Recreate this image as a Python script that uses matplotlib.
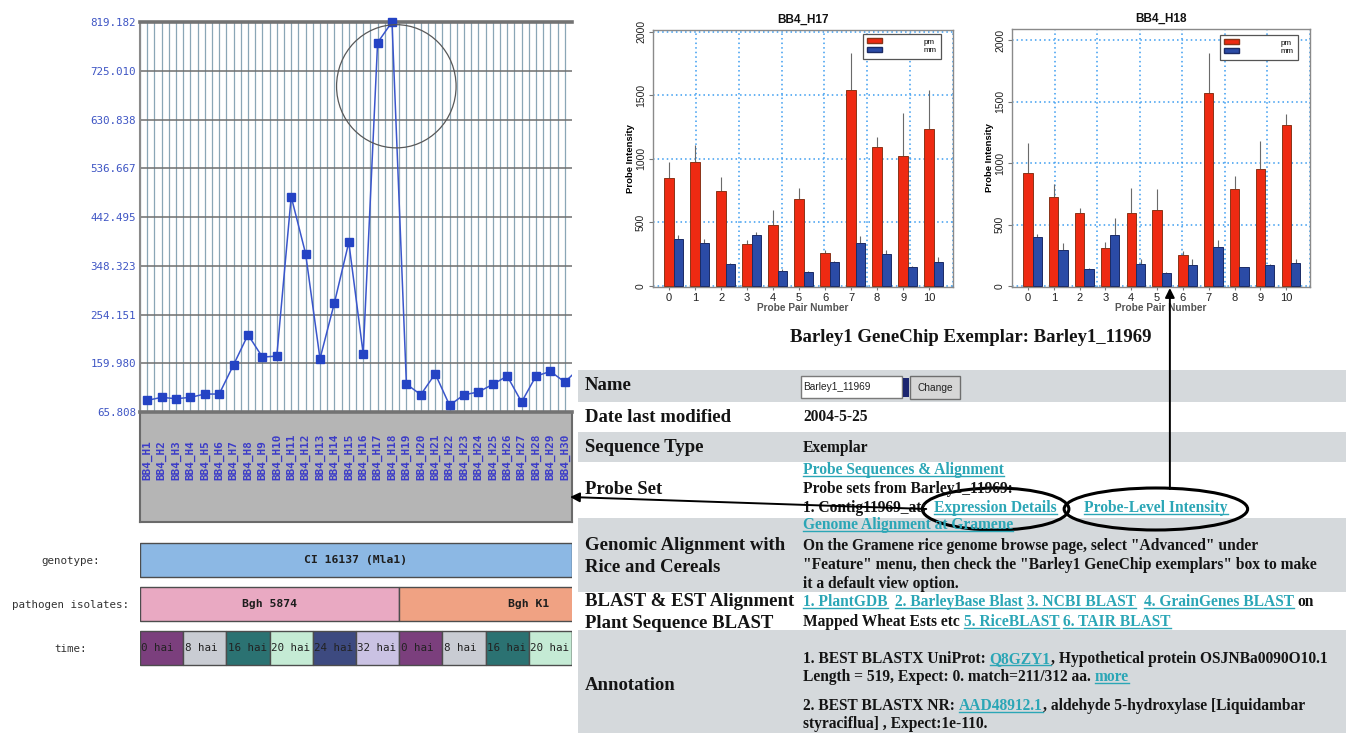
import numpy as np
import matplotlib
matplotlib.use('Agg')
import matplotlib.pyplot as plt
from matplotlib.patches import Ellipse, Rectangle, Patch

# expression profile of Barley1_11969 over the BB4 hybridisations
samples = ['BB4_H%d' % i for i in range(1, 31)]
expression = [88.3, 94.1, 91.5, 94.1, 100.5, 100.5, 157.1, 215.0, 171.9, 173.8,
              481.7, 371.8, 168.7, 276.6, 393.6, 178.3, 779.3, 819.18, 119.8, 99.2,
              139.7, 78.7, 99.2, 104.4, 119.2, 135.2, 85.1, 135.2, 144.2, 123.7]
next_sample = 150.0   # H31, only the start of its segment is visible
y_ticks = [65.808, 159.980, 254.151, 348.323, 442.495, 536.667, 630.838, 725.010, 819.182]
y_ticklabels = ['%.3f' % v for v in y_ticks]

# experimental design bars under the profile
genotypes = ['CI 16137 (Mla1)']
genotype_n = [30]
isolates = ['Bgh 5874', 'Bgh K1']
isolate_n = [18, 18]
timepoints = ['0 hai', '8 hai', '16 hai', '20 hai', '24 hai', '32 hai']
reps = 3
design_rows = ['genotype:', 'pathogen isolates:', 'time:']

genotype_colors = ['#8cb8e4']
isolate_colors = ['#e9a9c2', '#f0a283']
time_colors = ['#7b3f7d', '#c9ccd3', '#2b7272', '#c5ebd5', '#3d4a80', '#cac2e3']

# probe level intensities
probe_pairs = np.arange(11)
h17_pm = [852, 972, 750, 328, 480, 682, 257, 1541, 1096, 1022, 1232]
h17_pm_err = [126, 137, 110, 34, 118, 86, 26, 289, 78, 336, 309]
h17_mm = [370, 336, 170, 398, 121, 110, 189, 341, 252, 152, 189]
h17_mm_err = [31, 34, 10, 29, 9, 5, 11, 52, 31, 8, 42]
h18_pm = [921, 721, 593, 312, 593, 615, 249, 1572, 786, 948, 1309]
h18_pm_err = [244, 106, 38, 46, 206, 176, 36, 325, 108, 231, 87]
h18_mm = [401, 293, 141, 417, 182, 108, 173, 317, 152, 168, 187]
h18_mm_err = [19, 54, 4, 139, 40, 4, 44, 54, 3, 14, 30]

# exemplar page
page_title = 'Barley1 GeneChip Exemplar: Barley1_11969'
exemplar = 'Barley1_11969'
row_labels = [['Name'], ['Date last modified'], ['Sequence Type'], ['Probe Set'],
              ['Genomic Alignment with', 'Rice and Cereals'],
              ['BLAST & EST Alignment', 'Plant Sequence BLAST'], ['Annotation']]
# each line: list of (text, is_link); leading spaces become gaps
value_lines = [
    [('2004-5-25', False)],
    [('Exemplar', False)],
    [('Probe Sequences & Alignment', True)],
    [('Probe sets from Barley1_11969:', False)],
    [('1. Contig11969_at:', False), ('  Expression Details', True),
     ('       Probe-Level Intensity', True)],
    [('Genome Alignment at Gramene', True)],
    [('On the Gramene rice genome browse page, select "Advanced" under', False)],
    [('"Feature" menu, then check the "Barley1 GeneChip exemplars" box to make', False)],
    [('it a default view option.', False)],
    [('1. PlantGDB', True), ('  2. BarleyBase Blast', True), (' 3. NCBI BLAST', True),
     ('  4. GrainGenes BLAST', True), (' on', False)],
    [('Mapped Wheat Ests etc', False), (' 5. RiceBLAST', True), (' 6. TAIR BLAST', True)],
    [('1. BEST BLASTX UniProt:', False), (' Q8GZY1', True),
     (', Hypothetical protein OSJNBa0090O10.1', False)],
    [('Length = 519, Expect: 0. match=211/312 aa.', False), (' more', True)],
    [('2. BEST BLASTX NR:', False), (' AAD48912.1', True),
     (', aldehyde 5-hydroxylase [Liquidambar', False)],
    [('styraciflua] , Expect:1e-110.', False)],
]
circled = ['Expression Details', 'Probe-Level Intensity']

# layout (pixels of the 1346 x 733 canvas)
W, H = 1346, 733
row_edges = [370, 402, 432, 462, 518, 592, 630, 733]
row_label_y = [[386], [417], [448], [489], [545, 567], [601, 623], [685]]
value_y = [417, 448, 470, 489, 508, 525, 546, 565, 584, 602, 622, 659, 677, 706, 724]
circle_pad = [24, 40]

LINK = '#2ba6b6'
INK = '#141414'
SERIF = 'Liberation Serif'
MONO = 'DejaVu Sans Mono'

plt.rcParams['font.family'] = 'Liberation Sans'
fig = plt.figure(figsize=(W / 100, H / 100), dpi=100)


def px_axes(x0, y0, x1, y1, **kw):
    return fig.add_axes([x0 / W, 1 - y1 / H, (x1 - x0) / W, (y1 - y0) / H], **kw)


# ---------------- left: expression profile ----------------
xlim = (0.5, 30.5)
gax = px_axes(140, 412, 572, 522)
gax.set_facecolor('#b5b5b5')
gax.set_xticks([])
gax.set_yticks([])
for s in gax.spines.values():
    s.set_color('#6a6a6a')
    s.set_linewidth(1.5)

ax = px_axes(140, 22, 572, 412)
x = np.arange(1, len(expression) + 1)
ax.plot(np.append(x, x[-1] + 1), expression + [next_sample], color='#3a56cc', lw=1.1,
        zorder=4)
ax.plot(x, expression, 's', color='#2443c4', ms=5.2, zorder=5, clip_on=False)
ax.set_xlim(*xlim)
ax.set_ylim(y_ticks[0], y_ticks[-1])
ax.set_xticks(x, samples, rotation=90, va='bottom', fontsize=7.9,
              fontweight='bold', family=MONO, color='#3c3cc8')
ax.set_xticks(x - 0.5, minor=True)
ax.set_yticks(y_ticks, y_ticklabels, fontsize=7.8, family=MONO, color='#3e55c4')
ax.tick_params(axis='both', which='both', length=0)
ax.tick_params(axis='x', pad=49)
ax.tick_params(axis='y', pad=3)
ax.grid(axis='x', which='both', color='#8aa6b6', lw=0.9)
ax.grid(axis='y', color='#6e6e6e', lw=1.1)
ax.set_axisbelow(True)
for side in ('top', 'bottom'):
    ax.spines[side].set_color('#737373')
    ax.spines[side].set_linewidth(2.6)
ax.spines['left'].set_color('#8a8a8a')
ax.spines['left'].set_linewidth(1.5)
ax.spines['right'].set_visible(False)
ax.add_patch(Ellipse((18.3, 695), 8.3, 238, fill=False, ec='#585858', lw=0.9,
                     clip_on=False, zorder=6))

# design bars
dax = px_axes(140, 538, 572, 670)
dax.set_xlim(*xlim)
dax.set_ylim(2.5, -0.5)
bh = 0.77


def design_row(row, names, sizes, colors, left_text=False):
    left = 0.5
    for name, n, c in zip(names, sizes, colors):
        dax.barh(row, n, left=left, height=bh, color=c, edgecolor='#4d4d4d', lw=1)
        if left_text:
            dax.text(left + 0.1, row, name, ha='left', va='center', fontsize=7.8,
                     family=MONO, color='#222222', clip_on=True)
        else:
            dax.text(left + n / 2, row, name, ha='center', va='center', fontsize=8.2,
                     family=MONO, fontweight='bold', color='#1e1e1e', clip_on=True)
        left += n


design_row(0, genotypes, genotype_n, genotype_colors)
design_row(1, isolates, isolate_n, isolate_colors)
design_row(2, timepoints * len(isolates), [reps] * len(timepoints) * len(isolates),
           time_colors * len(isolates), left_text=True)
dax.set_yticks([0, 1, 2], design_rows, fontsize=7.8, family=MONO, color='#333333',
               ha='center')
dax.tick_params(axis='y', length=0, pad=50)
dax.set_xticks([])
for s in dax.spines.values():
    s.set_visible(False)


# ---------------- probe-level bar charts ----------------
def probe_chart(box, title, pm, pm_err, mm, mm_err, ylim, anchor):
    pax = px_axes(*box)
    w = 0.36
    pax.bar(probe_pairs, pm, w, color='#ee2a12', edgecolor='#8a3418', lw=0.7, zorder=3)
    pax.bar(probe_pairs + w, mm, w, color='#2b4ba6', edgecolor='#1b2b66', lw=0.7, zorder=3)
    pax.errorbar(probe_pairs, pm, yerr=[np.zeros(len(pm)), pm_err], fmt='none',
                 ecolor='#6a6a6a', elinewidth=0.8, capsize=0, zorder=2)
    pax.errorbar(probe_pairs + w, mm, yerr=[np.zeros(len(mm)), mm_err], fmt='none',
                 ecolor='#6a6a6a', elinewidth=0.8, capsize=0, zorder=2)
    xl = (-0.62, 10.92)
    pax.set_xlim(*xl)
    pax.set_ylim(*ylim)
    pax.set_xticks(probe_pairs, [str(p) for p in probe_pairs], fontsize=8, color='#222222')
    pax.set_xticks(np.linspace(xl[0], xl[1], 8), minor=True)
    pax.set_yticks([0, 500, 1000, 1500, 2000])
    for lbl in pax.get_yticklabels():
        lbl.set_rotation(90)
        lbl.set_va('center')
        lbl.set_fontsize(7.5)
        lbl.set_color('#222222')
    pax.tick_params(axis='x', which='major', length=2, pad=2, color='#777777')
    pax.tick_params(axis='x', which='minor', length=0)
    pax.tick_params(axis='y', length=3, pad=2, color='#777777')
    pax.grid(axis='x', which='minor', ls=(0, (1, 2)), color='#3a9cf0', lw=1.1)
    pax.grid(axis='y', ls=(0, (1, 2)), color='#3a9cf0', lw=1.1)
    pax.set_axisbelow(True)
    for s in pax.spines.values():
        s.set_color('#8a8a8a')
        s.set_linewidth(1)
    pax.set_title(title, fontsize=8.5, fontweight='bold', pad=5, color='#111111')
    pax.set_ylabel('Probe Intensity', fontsize=6.8, fontweight='bold', labelpad=1)
    pax.set_xlabel('Probe Pair Number', fontsize=7.3, fontweight='bold',
                   color='#555555', labelpad=0)
    handles = [Patch(facecolor='#ee2a12', edgecolor='#8a3418'),
               Patch(facecolor='#2b4ba6', edgecolor='#1b2b66')]
    leg = pax.legend(handles, ['pm', 'mm'], loc='upper right', bbox_to_anchor=anchor,
                     borderaxespad=0, fontsize=5.8, fancybox=False, framealpha=1,
                     edgecolor='#555555', handlelength=1.8, handleheight=0.6,
                     handletextpad=5.2, borderpad=0.55, labelspacing=0.15)
    leg.get_frame().set_linewidth(0.9)
    return pax


probe_chart((653, 30, 953, 287), 'BB4_H17', h17_pm, h17_pm_err, h17_mm, h17_mm_err,
            (-8, 2013), (0.96, 0.985))
probe_chart((1012, 29, 1310, 287), 'BB4_H18', h18_pm, h18_pm_err, h18_mm, h18_mm_err,
            (-8, 2090), (0.96, 0.977))

# ---------------- exemplar page (pixel overlay) ----------------
ov = fig.add_axes([0, 0, 1, 1])
ov.set_xlim(0, W)
ov.set_ylim(H, 0)
ov.axis('off')
ov.set_zorder(10)

for i in range(len(row_labels)):
    if i % 2 == 0:
        ov.add_patch(Rectangle((578, row_edges[i]), W - 578, row_edges[i + 1] - row_edges[i],
                               color='#d5d9dc', lw=0, zorder=0))
    for txt, yy in zip(row_labels[i], row_label_y[i]):
        ov.text(585, yy, txt, fontsize=13.5, fontweight='bold', family=SERIF,
                color=INK, va='center', ha='left')

ov.text(971, 338, page_title, fontsize=13.5, fontweight='bold', family=SERIF,
        color=INK, ha='center', va='center')

# name input + button
ov.add_patch(Rectangle((801, 376), 101, 22, facecolor='white', edgecolor='#7a7a7a', lw=1))
ov.text(803, 387.5, exemplar, fontsize=7.3, color='#222222', va='center', ha='left')
ov.add_patch(Rectangle((903, 378), 6, 19, facecolor='#1c2670', lw=0))
ov.add_patch(Rectangle((910, 376), 50, 23, facecolor='#d6d6d6', edgecolor='#6e6e6e', lw=1))
ov.text(935, 388, 'Change', fontsize=7.3, color='#222222', va='center', ha='center')

links = []


def chain(yy, segments, size=11.2):
    prev = None
    for txt, is_link in segments:
        gap = (len(txt) - len(txt.lstrip(' '))) * 0.25 * size
        txt = txt.strip(' ')
        kw = dict(fontsize=size, fontweight='bold', family=SERIF,
                  color=LINK if is_link else INK)
        if prev is None:
            prev = ov.text(803, yy, txt, va='center', ha='left', **kw)
        else:
            prev = ov.annotate(txt, xy=(1, 0), xycoords=prev, xytext=(gap, 0),
                               textcoords='offset points', va='bottom', ha='left', **kw)
        if is_link:
            links.append(prev)


for yy, segs in zip(value_y, value_lines):
    chain(yy, segs)

fig.canvas.draw()
inv = ov.transData.inverted()
ellipse_boxes = {}
for t in links:
    bb = t.get_window_extent()
    (x0, y0), (x1, _) = inv.transform([(bb.x0, bb.y0 + 2.2), (bb.x1, bb.y0 + 2.2)])
    ov.plot([x0, x1], [y0, y0], color=LINK, lw=1)
    if t.get_text() in circled:
        (cx0, cy0), (cx1, cy1) = inv.transform([(bb.x0, bb.y0), (bb.x1, bb.y1)])
        ellipse_boxes[t.get_text()] = ((cx0 + cx1) / 2, (cy0 + cy1) / 2 + 1, cx1 - cx0)

ells = []
for name, pad in zip(circled, circle_pad):
    cx, cy, wd = ellipse_boxes[name]
    ov.add_patch(Ellipse((cx, cy), wd + pad, 42, fill=False, ec='black', lw=2.2))
    ells.append((cx, cy, wd + pad))

(e1x, e1y, e1w), (e2x, e2y, e2w) = ells
arrow = dict(arrowstyle='-|>', color='black', lw=1.4, mutation_scale=14,
             shrinkA=0, shrinkB=0)
ov.annotate('', xy=(570, 497), xytext=(e1x - e1w / 2 + 4, e1y), arrowprops=arrow)
ov.annotate('', xy=(e2x + 14, 288), xytext=(e2x + 14, e2y - 20), arrowprops=arrow)

fig.savefig('out.png', dpi=100)
